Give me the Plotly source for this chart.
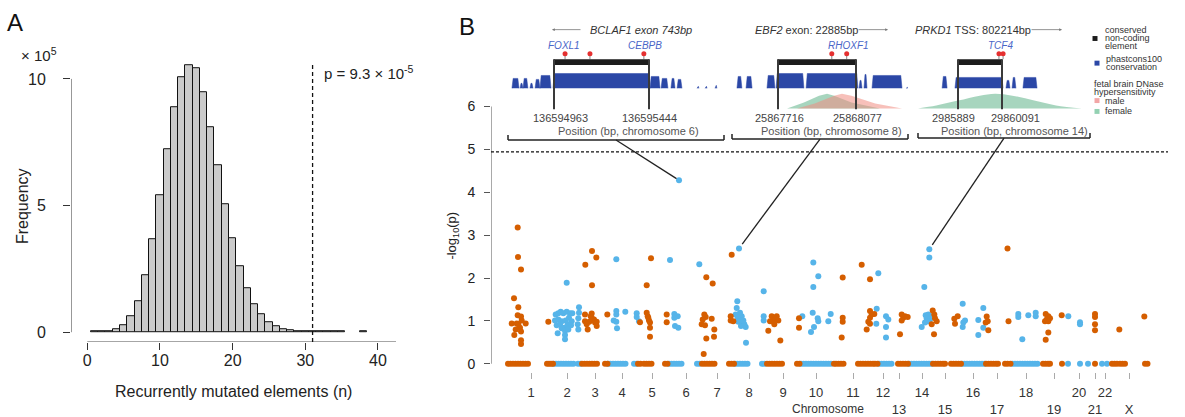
import plotly.graph_objects as go

W, H = 1185, 417
FONT = "Liberation Sans, Arial, Helvetica, sans-serif"

# ---------------- Panel A data (histogram, x 10^5) ----------------
hist_n = list(range(1, 36)) + [38]
hist_freq = [0.02, 0.02, 0.03, 0.10, 0.27, 0.63, 1.22, 2.26, 3.67, 5.40,
             7.24, 8.87, 10.07, 10.54, 10.41, 9.46, 8.11, 6.61, 5.07, 3.71,
             2.61, 1.74, 1.12, 0.70, 0.40, 0.23, 0.12, 0.06, 0.03, 0.02,
             0.02, 0.02, 0.02, 0.02, 0.02, 0.02]
observed_n = 31
a_xticks = [0, 10, 20, 30, 40]
a_yticks = [0, 5, 10]

# ---------------- Panel B data (Manhattan) ----------------
chrom_ticks = [531, 567, 595, 622, 652, 686, 717, 749, 783, 816, 853, 883,
               899, 922, 945, 973, 997, 1026, 1054, 1079, 1095, 1105, 1129]
chrom_names = ["1", "2", "3", "4", "5", "6", "7", "8", "9", "10", "11", "12",
               "13", "14", "15", "16", "17", "18", "19", "20", "21", "22", "X"]
chrom_row = [1, 1, 1, 1, 1, 1, 1, 1, 1, 1, 1, 1,
             2, 1, 2, 1, 2, 1, 2, 1, 2, 1, 2]
threshold = 4.94

orange_x = [517.7, 518, 521, 514, 518.3, 517.7, 521, 511.7, 516.7, 521.7, 525.7, 520, 515.7, 514.3, 521, 521, 521, 518.3,
            548.3,
            592, 585.3, 596.3, 592, 591.7, 590.7, 589.3, 585, 586.7, 594, 596.7, 595, 591.7, 587.7, 596.7, 585,
            607.3,
            640, 646.7, 651, 646.7, 647.7, 649, 650, 650, 650, 648.3,
            666.7, 666.7,
            706.3, 712.7, 704.3, 705.7, 702.7, 701.7, 705, 711.7, 714.3, 706.3, 714, 703.7,
            731.7, 730.7, 730.7, 733.3,
            771.7, 775, 773.3, 778.3, 770, 774.3, 768.3, 780.3, 776.7,
            799, 799,
            842.7, 842.7, 842.7, 841.7, 861.7, 870, 870, 871.7, 870, 868.3, 874.3, 866.7, 870,
            900, 901.7, 903.3, 905, 907.7, 901.7,
            932.7, 934.3, 936.7, 935, 934, 931.7,
            954.3, 957.7, 955,
            986.7, 987.7, 988.3, 985.7, 1007.5, 1008.5,
            1045.7, 1048.3, 1046.7, 1050, 1045, 1048.3, 1048.3, 1045.7,
            1061.7,
            1095, 1095, 1095, 1095,
            1119.3,
            1144.3]
orange_y = [3.18, 2.49, 2.20, 1.53, 1.32, 1.13, 1.10, 0.94, 0.94, 1.01, 0.94, 0.84, 0.80, 0.67, 0.75, 0.55, 0.46, 0.92,
            0.98,
            2.63, 2.31, 2.48, 1.83, 1.17, 1.11, 0.98, 0.99, 0.92, 1.03, 0.98, 0.96, 1.07, 0.80, 0.88, 1.15,
            1.15,
            0.97, 1.83, 2.46, 1.19, 1.11, 1.01, 0.96, 0.84, 0.63, 1.07,
            1.15, 0.97,
            2.02, 1.87, 1.15, 1.09, 1.03, 0.92, 0.90, 1.05, 0.80, 0.59, 0.63, 0.23,
            2.54, 1.11, 1.01, 0.99,
            1.11, 1.06, 0.99, 1.01, 0.99, 0.92, 0.77, 0.54, 1.11,
            1.06, 0.84,
            2.01, 1.07, 0.98, 0.61, 2.31, 1.97, 1.23, 1.15, 1.07, 0.98, 1.16, 0.80, 0.93,
            0.69, 1.15, 1.07, 1.11, 1.09, 1.01,
            1.24, 1.15, 0.99, 1.06, 0.69, 0.92,
            1.05, 1.11, 0.93,
            1.10, 0.99, 0.78, 0.96, 2.69, 0.99,
            1.16, 1.11, 1.03, 1.06, 0.99, 0.99, 0.73, 0.56,
            1.13,
            1.16, 1.09, 0.92, 0.78,
            0.80,
            1.10]

blue_x = [566.7, 555.7, 558.3, 560.7, 563.3, 566.7, 570, 572.3, 555, 558.3, 561.7, 565.7, 569, 571.7, 556.7,
          560, 564.3, 567.7, 571, 557.7, 565, 565, 565, 561.7, 568.3, 579, 579, 578.3, 577.7, 578.3,
          616.3, 616.3, 616.3, 613.7, 616.3, 617, 625.3,
          636.7, 636.7, 639,
          670, 674.3, 677.7, 675, 678.3, 674.3, 679,
          699.3,
          739, 737.3, 736.7, 740, 741.7, 735.7, 737.7, 739, 741.7, 744.3, 745.7, 741, 738.3, 743.3, 746,
          763.7, 763.7, 763.7,
          802.3, 813.3, 818.3, 813.3, 812.7, 817.7, 818.3, 814, 811, 828.3, 830.7,
          878.3, 876.7, 876.3, 886, 888.3, 886, 886,
          924.3, 929.3, 929.3, 925.7, 928.3, 931, 926.7, 930, 927.7, 925, 921.7,
          962.7, 965, 963.3, 962.7, 978.3, 983.3, 983.3, 978.3,
          1018.3, 1018.3, 1028.3, 1035.7, 1035.7, 1022.3,
          1068.3, 1080, 1080]
blue_y = [1.89, 1.15, 1.18, 1.21, 1.18, 1.21, 1.18, 1.18, 1.01, 1.03, 0.99, 1.01, 1.07, 0.99, 0.90,
          0.92, 0.84, 0.92, 0.90, 0.71, 0.77, 0.67, 0.57, 0.83, 0.80, 1.32, 1.19, 1.06, 0.92, 0.80,
          2.44, 1.23, 1.15, 1.01, 0.98, 0.83, 1.21,
          1.18, 1.09, 0.99,
          2.42, 1.16, 1.11, 0.88, 0.84, 1.07, 4.28,
          2.32,
          2.69, 1.46, 1.30, 1.19, 1.11, 1.15, 1.07, 0.99, 0.96, 0.92, 0.86, 0.88, 0.98, 1.01, 0.49,
          1.69, 1.11, 1.01,
          1.11, 2.36, 2.04, 1.79, 1.19, 1.06, 0.99, 0.86, 0.74, 0.99, 1.16,
          2.11, 1.28, 0.93, 1.11, 1.03, 0.86, 0.61,
          1.79, 2.67, 2.48, 1.13, 1.15, 1.11, 1.06, 1.03, 0.99, 0.96, 0.86,
          1.40, 1.01, 0.96, 0.86, 1.02, 1.30, 0.84, 0.67,
          1.16, 1.09, 1.13, 1.19, 1.11, 0.57,
          1.11, 0.97, 0.92]

# elements with -log10(p) == 0
orange_zero_x = [508, 510.5, 513, 515.5, 518, 520.5, 523, 525.5, 528,
                 547, 549, 551, 553,
                 582, 584.5, 587, 589.5, 592, 594.5, 597,
                 605, 607.5, 638, 640.5, 644, 646.5, 649, 651.5, 665, 667.5,
                 702, 704.5, 707, 709.5, 712, 714.5, 729, 731.5, 734,
                 767, 769.5, 772, 774.5, 777, 779.5, 782, 797, 799.5,
                 834, 836, 838.5, 841, 843.5,
                 858, 860.5, 863, 865.5, 868, 870.5, 873, 875, 877.5,
                 898, 900.5, 903, 905.5, 908,
                 933, 935.5, 938, 940.5, 943, 945,
                 951, 953.5, 956, 958.5, 961,
                 986, 988.5, 991, 993.5, 996, 998,
                 1005, 1007.5, 1010.5, 1043, 1045.5, 1048, 1050,
                 1062, 1095, 1112, 1114.5, 1117, 1120, 1122.5, 1125, 1145, 1147.5]
blue_zero_x = [553.5, 556, 558.5, 561, 563.5, 566, 568.5, 571, 573.5, 578, 580.5,
               608, 610.5, 613, 615.5, 618, 620.5, 623, 625.5, 634, 636.5,
               669, 671.5, 674, 676.5, 679, 681.5, 697, 699.5,
               735, 737.5, 740, 742.5, 745, 747.5, 762, 764.5,
               801, 803.5, 806, 808.5, 811, 813.5, 816, 818.5, 821, 823.5, 826, 828.5, 831,
               879, 881.5, 884, 886.5, 889, 891.5,
               909, 911.5, 914, 916.5, 919, 921.5, 924, 926.5, 929, 931.5,
               962, 964.5, 967, 969.5, 972, 974.5, 977, 979.5, 982, 984.5,
               1012.5, 1015, 1017.5, 1020, 1022.5, 1025, 1027.5, 1030, 1032.5, 1035, 1037.5,
               1068, 1080, 1088, 1102, 1107]

# highlighted elements (detailed in the insets)
hl_x = [679, 739, 929.3]
hl_y = [4.28, 2.69, 2.67]

# ---------------- Inset data (bp relative to element start) ----------------
ins_titles = ["<i>BCLAF1 exon 743bp</i>", "<i>EBF2</i> exon: 22885bp", "<i>PRKD1</i> TSS: 802214bp"]
ins_arrow_left = [True, False, False]
ins_len = [481, 361, 202]
ins_start_lab = ["136594963", "25867716", "2985889"]
ins_end_lab = ["136595444", "25868077", "29860091"]
ins_chrom = ["6", "8", "14"]

cons1_start = [-213, -172, -157, -122, -96, -71, -5, 486, 542, 592, 623, 724, 765, 815]
cons1_end = [-177, -157, -132, -106, -71, -15, 486, 537, 577, 613, 648, 734, 775, 825]
cons1_h = [10, 5, 10, 5, 9, 13, 15, 12, 10, 10, 9, 2, 2, 3]
cons2_start = [-190, -148, -51, -9, 130, 375, 398, 435, 593]
cons2_end = [-167, -120, -14, 120, 370, 389, 412, 574, 602]
cons2_h = [12, 12, 13, 15, 15, 8, 14, 13, 1]
cons3_start = [-73, -14, 220, 248, 298]
cons3_end = [-50, 207, 239, 266, 363]
cons3_h = [12, 11, 8, 11, 11]

tfbs1_x = [56, 182, 455]
tfbs2_x = [249, 318]
tfbs3_x = [188, 207]
genes1 = [("FOXL1", 51), ("CEBPB", 460)]
genes2 = [("RHOXF1", 324)]
genes3 = [("TCF4", 193)]

dnase2_f_x = [42, 120, 190, 227, 260, 340, 472]
dnase2_f_h = [0, 6, 13, 15, 13, 6, 0]
dnase2_m_x = [88, 170, 260, 296, 340, 450, 574]
dnase2_m_h = [0, 5, 13, 15, 13, 5, 0]
dnase3_f_x = [-184, -100, 0, 100, 170, 250, 350, 450, 569]
dnase3_f_h = [0, 3, 8, 13, 15, 13, 8, 3, 0]

# ---------------- colours ----------------
C_OR = "#D55E00"
C_BL = "#56B4E9"
C_CONS = "#2B47A6"
C_GENE = "#4A66C8"
C_FEM = "rgba(120,190,155,0.65)"
C_MAL = "rgba(240,140,130,0.55)"

# ---------------- layout geometry (pixels) ----------------
def fx(p):
    return p / W

def fy(p):
    return 1 - p / H

# Panel A
A_L, A_R, A_T, A_B = 71, 396, 55, 343
A_X0PX, A_XS = 87.3, 7.267   # px of x=0, px per unit
A_Y0PX, A_YS = 333, 25.7
a_xr = [-(A_X0PX - A_L) / A_XS, (A_R - A_X0PX) / A_XS]
a_yr = [-(A_B - A_Y0PX) / A_YS, (A_Y0PX - A_T) / A_YS]

# Panel B
B_L, B_R, B_T, B_B = 491, 1168, 100, 373
B_Y0PX, B_YS = 365, 43.5
b_xr = [B_L, B_R]
b_yr = [-(B_B - B_Y0PX) / B_YS, (B_Y0PX - B_T) / B_YS]

def b_y(py):
    return (B_Y0PX - py) / B_YS

# insets
INS_DOM = [(508, 724), (732, 908), (918, 1090)]
INS_STARTPX = [554, 778, 958]
INS_ENDPX = [649, 856, 1002]
INS_T, INS_B = 40, 107
INS_BRACKET_Y = [138, 137, 136]
INS_POS_LABEL_X = [628, 831, 1014]
INS_NUM_SHIFT = [(6, 0), (1, 1), (-5, 13)]

fig = go.Figure()

# ---- Panel A ----
fig.add_trace(go.Bar(x=hist_n, y=hist_freq, width=1,
                     marker=dict(color="#cbcbcb", line=dict(color="#111111", width=1)),
                     xaxis="x", yaxis="y", showlegend=False, hoverinfo="skip"))

# ---- Panel B ----
fig.add_trace(go.Scatter(x=blue_zero_x, y=[0] * len(blue_zero_x), mode="markers",
                         marker=dict(color=C_BL, size=6), xaxis="x2", yaxis="y2",
                         showlegend=False, hoverinfo="skip", cliponaxis=False))
fig.add_trace(go.Scatter(x=orange_zero_x, y=[0] * len(orange_zero_x), mode="markers",
                         marker=dict(color=C_OR, size=6), xaxis="x2", yaxis="y2",
                         showlegend=False, hoverinfo="skip", cliponaxis=False))
fig.add_trace(go.Scatter(x=blue_x, y=blue_y, mode="markers",
                         marker=dict(color=C_BL, size=6), xaxis="x2", yaxis="y2",
                         showlegend=False, hoverinfo="skip"))
fig.add_trace(go.Scatter(x=orange_x, y=orange_y, mode="markers",
                         marker=dict(color=C_OR, size=6), xaxis="x2", yaxis="y2",
                         showlegend=False, hoverinfo="skip"))

# connectors from insets to highlighted points
for i in range(3):
    sx = (INS_DOM[i][0] + INS_DOM[i][1]) / 2
    sy = b_y(INS_BRACKET_Y[i])
    px_, py_ = hl_x[i], hl_y[i]
    ex = px_ + 0.04 * (sx - px_)
    ey = py_ + 0.04 * (sy - py_)
    fig.add_trace(go.Scatter(x=[sx, ex], y=[sy, ey], mode="lines",
                             line=dict(color="#222222", width=1.3), xaxis="x2", yaxis="y2",
                             showlegend=False, hoverinfo="skip"))

# ---- Insets ----
cons_blocks = [(cons1_start, cons1_end, cons1_h), (cons2_start, cons2_end, cons2_h),
               (cons3_start, cons3_end, cons3_h)]
tfbs_all = [tfbs1_x, tfbs2_x, tfbs3_x]
genes_all = [genes1, genes2, genes3]
CONS_BASE = 21.5
BAR_Y0, BAR_Y1 = 45, 51
LOLLI_Y = 56.5

shapes = []
annotations = []

for i in range(3):
    xa = "x%d" % (i + 3)
    ya = "y%d" % (i + 3)
    s = ins_len[i] / (INS_ENDPX[i] - INS_STARTPX[i])
    xr = [(INS_DOM[i][0] - INS_STARTPX[i]) * s, (INS_DOM[i][1] - INS_STARTPX[i]) * s]
    d = 1.2 * s
    # DNase hypersensitivity
    if i == 1:
        fig.add_trace(go.Scatter(x=dnase2_f_x, y=[1 + h for h in dnase2_f_h], fill="toself",
                                 fillcolor=C_FEM, line=dict(width=0), mode="lines",
                                 xaxis=xa, yaxis=ya, showlegend=False, hoverinfo="skip"))
        fig.add_trace(go.Scatter(x=dnase2_m_x, y=[1 + h for h in dnase2_m_h], fill="toself",
                                 fillcolor=C_MAL, line=dict(width=0), mode="lines",
                                 xaxis=xa, yaxis=ya, showlegend=False, hoverinfo="skip"))
    if i == 2:
        fig.add_trace(go.Scatter(x=dnase3_f_x, y=[1 + h for h in dnase3_f_h], fill="toself",
                                 fillcolor=C_FEM, line=dict(width=0), mode="lines", line_shape="spline",
                                 xaxis=xa, yaxis=ya, showlegend=False, hoverinfo="skip"))
    # conservation
    st, en, hh = cons_blocks[i]
    cx, cy = [], []
    for a, b, h in zip(st, en, hh):
        dd = min(d, (b - a) / 3)
        cx += [a, a + dd, b - dd, b, None]
        cy += [CONS_BASE, CONS_BASE + h, CONS_BASE + h, CONS_BASE, None]
    fig.add_trace(go.Scatter(x=cx, y=cy, fill="toself", fillcolor=C_CONS, mode="lines",
                             line=dict(width=0.5, color=C_CONS), xaxis=xa, yaxis=ya,
                             showlegend=False, hoverinfo="skip"))
    # element bar
    shapes.append(dict(type="rect", xref=xa, yref=ya, x0=0, x1=ins_len[i], y0=BAR_Y0, y1=BAR_Y1,
                       fillcolor="#1c1c1c", line=dict(width=0)))
    for xv in [0, ins_len[i]]:
        shapes.append(dict(type="line", xref=xa, yref=ya, x0=xv, x1=xv, y0=0, y1=BAR_Y1,
                           line=dict(color="#3a3a3a", width=2)))
    # element coordinates
    for xv, lab, sh in [(0, ins_start_lab[i], INS_NUM_SHIFT[i][0]),
                        (ins_len[i], ins_end_lab[i], INS_NUM_SHIFT[i][1])]:
        annotations.append(dict(text=lab, xref=xa, yref="paper", x=xv, xshift=sh, y=fy(116),
                                showarrow=False, xanchor="center", yanchor="middle",
                                font=dict(size=11, color="#444444", family=FONT)))
    # TFBS lollipops
    lx, ly = [], []
    for t in tfbs_all[i]:
        lx += [t, t, None]
        ly += [BAR_Y1, LOLLI_Y, None]
    fig.add_trace(go.Scatter(x=lx, y=ly, mode="lines", line=dict(color="#888888", width=1),
                             xaxis=xa, yaxis=ya, showlegend=False, hoverinfo="skip"))
    fig.add_trace(go.Scatter(x=tfbs_all[i], y=[LOLLI_Y] * len(tfbs_all[i]), mode="markers",
                             marker=dict(color="#E53030", size=5), xaxis=xa, yaxis=ya,
                             showlegend=False, hoverinfo="skip", cliponaxis=False))
    for name, gx in genes_all[i]:
        annotations.append(dict(text="<i>%s</i>" % name, xref=xa, yref="paper", x=gx, y=fy(42),
                                showarrow=False, xanchor="center", yanchor="middle",
                                font=dict(size=10, color=C_GENE, family=FONT)))
    # axis layout
    fig.update_layout(**{
        "xaxis%d" % (i + 3): dict(domain=[fx(INS_DOM[i][0]), fx(INS_DOM[i][1])], range=xr,
                                  anchor=ya, visible=False),
        "yaxis%d" % (i + 3): dict(domain=[fy(INS_B), fy(INS_T)], range=[0, INS_B - INS_T],
                                  anchor=xa, visible=False),
    })
    # bracket
    by = fy(INS_BRACKET_Y[i])
    bt = fy(INS_BRACKET_Y[i] - 5)
    x0, x1 = fx(INS_DOM[i][0]), fx(INS_DOM[i][1])
    for sh in [(x0, by, x1, by), (x0, by, x0, bt), (x1, by, x1, bt)]:
        shapes.append(dict(type="line", xref="paper", yref="paper", x0=sh[0], y0=sh[1],
                           x1=sh[2], y1=sh[3], line=dict(color="#222222", width=1.5)))
    annotations.append(dict(text="Position (bp, chromosome %s)" % ins_chrom[i], xref="paper",
                            yref="paper", x=fx(INS_POS_LABEL_X[i]), y=fy(129), showarrow=False,
                            xanchor="center", yanchor="middle",
                            font=dict(size=11, color="#555555", family=FONT)))

# inset titles and arrows
title_left_px = [588, 753, 913]
arrow_px = [(552, 582), (857, 888), (1030, 1062)]
for i in range(3):
    annotations.append(dict(text=ins_titles[i], xref="paper", yref="paper", x=fx(title_left_px[i]),
                            y=fy(26), showarrow=False, xanchor="left", yanchor="middle",
                            font=dict(size=11, color="#333333", family=FONT)))
    a0, a1 = arrow_px[i]
    head, tail = (a0, a1) if ins_arrow_left[i] else (a1, a0)
    annotations.append(dict(text="", xref="paper", yref="paper", x=fx(head), y=fy(26),
                            ax=tail - head, ay=0, showarrow=True, arrowhead=2, arrowsize=0.7,
                            arrowwidth=0.8, arrowcolor="#777777"))

# inset legend
leg_items = [
    (1095, 35, "#1c1c1c"), (1097, 60, C_CONS), (1097, 98, "#F2A6A6"), (1097, 109, "#93D1B2"),
]
for lx_, ly_, col in leg_items:
    shapes.append(dict(type="rect", xref="paper", yref="paper", x0=fx(lx_ - 2.5), x1=fx(lx_ + 2.5),
                       y0=fy(ly_ + 2.5), y1=fy(ly_ - 2.5), fillcolor=col, line=dict(width=0)))
leg_text = [(1103, 26, "conserved"), (1103, 34.5, "non-coding"), (1103, 43, "element"),
            (1104, 55.3, "phastcons100"), (1104, 64.3, "conservation"),
            (1092, 81, "fetal brain DNase"), (1092, 89.5, "hypersensitivity"),
            (1103, 98.3, "male"), (1103, 109, "female")]
for lx_, ly_, t in leg_text:
    annotations.append(dict(text=t, xref="paper", yref="paper", x=fx(lx_), y=fy(ly_),
                            showarrow=False, xanchor="left", yanchor="middle",
                            font=dict(size=9, color="#333333", family=FONT)))

# Panel A decorations
shapes.append(dict(type="line", xref="x", yref="y", x0=0, x1=a_xr[1], y0=a_yr[0], y1=a_yr[0],
                   line=dict(color="#333333", width=1)))
shapes.append(dict(type="line", xref="x", yref="y", x0=a_xr[0], x1=a_xr[0], y0=0, y1=10,
                   line=dict(color="#333333", width=1)))
shapes.append(dict(type="line", xref="x", yref="y", x0=observed_n, x1=observed_n,
                   y0=a_yr[0], y1=(A_Y0PX - 60) / A_YS,
                   line=dict(color="#111111", width=1.3, dash="4px,3px")))

# Panel B decorations
shapes.append(dict(type="line", xref="x2", yref="y2", x0=b_xr[0], x1=b_xr[0], y0=0, y1=6,
                   line=dict(color="#555555", width=1)))
shapes.append(dict(type="line", xref="x2", yref="y2", x0=b_xr[0], x1=b_xr[1], y0=threshold,
                   y1=threshold, line=dict(color="#111111", width=1.3, dash="3px,2px")))

annotations += [
    dict(text="A", x=fx(5), y=fy(19), xanchor="left", yanchor="middle",
         font=dict(size=24, color="#111111", family=FONT)),
    dict(text="B", x=fx(457), y=fy(23), xanchor="left", yanchor="middle",
         font=dict(size=24, color="#111111", family=FONT)),
    dict(text="× 10<sup>5</sup>", x=fx(19), y=fy(51), xanchor="left", yanchor="middle",
         font=dict(size=15, color="#222222", family=FONT)),
    dict(text="p = 9.3 × 10<sup>-5</sup>", x=fx(322), y=fy(70), xanchor="left", yanchor="middle",
         font=dict(size=15, color="#222222", family=FONT)),
    dict(text="Frequency", x=fx(22), y=fy(205), textangle=-90, xanchor="center", yanchor="middle",
         font=dict(size=16, color="#222222", family=FONT)),
    dict(text="Recurrently mutated elements (n)", x=fx(233), y=fy(393), xanchor="center",
         yanchor="middle", font=dict(size=16, color="#222222", family=FONT)),
    dict(text="-log<sub>10</sub>(p)", x=fx(453), y=fy(235), textangle=-90, xanchor="center",
         yanchor="middle", font=dict(size=13, color="#222222", family=FONT)),
    dict(text="Chromosome", x=fx(828), y=fy(411), xanchor="center", yanchor="middle",
         font=dict(size=12, color="#333333", family=FONT)),
]
for a in annotations:
    a.setdefault("showarrow", False)
    a.setdefault("xref", "paper")
    a.setdefault("yref", "paper")

chrom_text = [n if r == 1 else "<br>" + n for n, r in zip(chrom_names, chrom_row)]

fig.update_layout(
    width=W, height=H, margin=dict(l=0, r=0, t=0, b=0),
    paper_bgcolor="white", plot_bgcolor="rgba(0,0,0,0)",
    font=dict(family=FONT, color="#222222"),
    showlegend=False, bargap=0,
    xaxis=dict(domain=[fx(A_L), fx(A_R)], range=a_xr, anchor="y", showgrid=False, zeroline=False,
               showline=False, tickvals=a_xticks, ticks="outside", ticklen=7, tickcolor="#333333",
               ticklabelstandoff=-3, tickfont=dict(size=16, color="#222222")),
    yaxis=dict(domain=[fy(A_B), fy(A_T)], range=a_yr, anchor="x", showgrid=False, zeroline=False,
               showline=False, tickvals=a_yticks, ticks="outside", ticklen=7, tickcolor="#333333",
               ticklabelstandoff=14, tickfont=dict(size=16, color="#222222")),
    xaxis2=dict(domain=[fx(B_L), fx(B_R)], range=b_xr, anchor="y2", showgrid=False, zeroline=False,
                showline=False, tickvals=chrom_ticks, ticktext=chrom_text, ticks="outside",
                ticklen=6, tickcolor="#aaaaaa", tickangle=0, ticklabelstandoff=3,
                tickfont=dict(size=13, color="#333333")),
    yaxis2=dict(domain=[fy(B_B), fy(B_T)], range=b_yr, anchor="x2", showgrid=False, zeroline=False,
                showline=False, tickvals=[0, 1, 2, 3, 4, 5, 6], ticks="outside", ticklen=6,
                tickcolor="#555555", ticklabelstandoff=6, tickfont=dict(size=14, color="#222222")),
    shapes=shapes, annotations=annotations,
)

fig.write_html("out.html")
